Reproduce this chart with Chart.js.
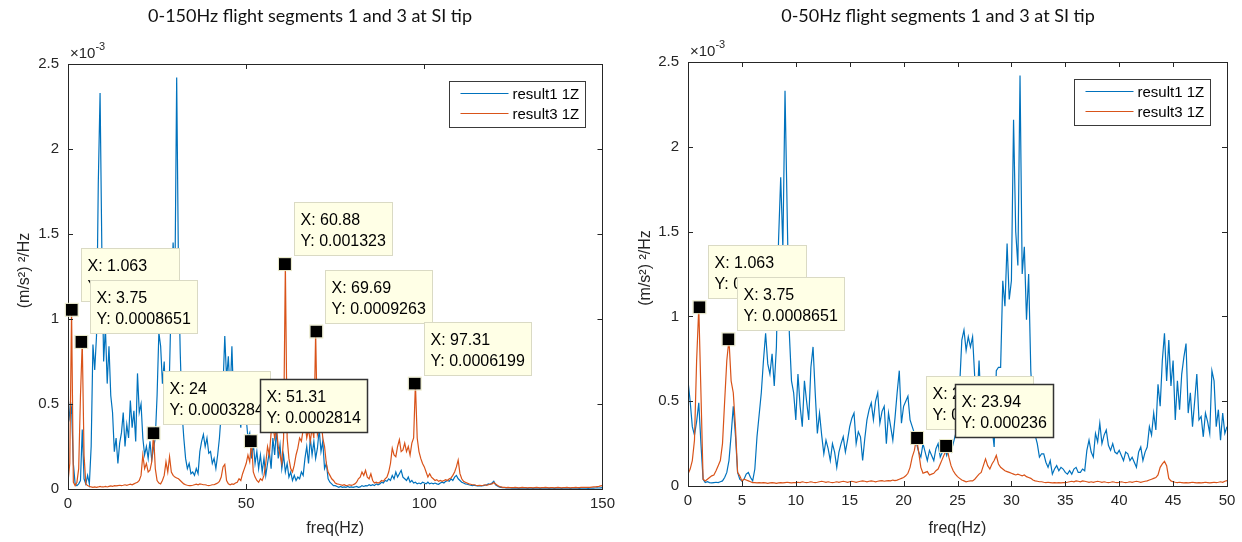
<!DOCTYPE html>
<html>
<head>
<meta charset="utf-8">
<script src="https://cdn.jsdelivr.net/npm/chart.js@4.4.1/dist/chart.umd.min.js"></script>
<style>
  html, body { margin: 0; padding: 0; background: #fff; }
  body { width: 1242px; height: 542px; position: relative; overflow: hidden; }
  .panel { position: absolute; top: 0; width: 621px; height: 542px; }
  #panel-left  { left: 0; }
  #panel-right { left: 621px; }
</style>
</head>
<body>
<div class="panel" id="panel-left"><canvas id="chartLeft" width="621" height="542"></canvas></div>
<div class="panel" id="panel-right"><canvas id="chartRight" width="621" height="542"></canvas></div>
<script>
/* ── Data (PSD values in units of 1e-3 (m/s^2)^2/Hz) ─────────────────────── */
const LEFT_STEP  = 0.5;   // Hz between samples, 0-150 Hz panel
const RIGHT_STEP = 0.2;   // Hz between samples, 0-50 Hz panel

const SERIES_NAMES = ['result1 1Z', 'result3 1Z'];
const LEFT_TITLE   = '0-150Hz flight segments 1 and 3 at SI tip';
const RIGHT_TITLE  = '0-50Hz flight segments 1 and 3 at SI tip';
const X_LABEL      = 'freq(Hz)';
const Y_LABEL      = '(m/s²) ²/Hz';

// 0-150 Hz, result1 (every 0.5 Hz, one row = 5 Hz)
const leftResult1 = [
  0.55, 0.42, 0.48, 0.15, 0.03, 0.02, 0.03, 0.05, 0.35, 0.06,
  0.03, 0.08, 0.03, 0.25, 0.85, 0.70, 0.90, 1.80, 2.33, 1.40,
  0.75, 0.95, 0.62, 0.84, 0.55, 0.45, 0.22, 0.30, 0.15, 0.27,
  0.33, 0.45, 0.25, 0.38, 0.30, 0.52, 0.36, 0.46, 0.28, 0.68,
  0.45, 0.50, 0.30, 0.20, 0.25, 0.18, 0.28, 0.17, 0.24, 0.30,
  0.55, 0.92, 0.84, 0.62, 0.75, 0.45, 0.58, 0.70, 1.15, 1.45,
  1.20, 2.42, 1.30, 0.80, 0.45, 0.30, 0.18, 0.12, 0.15, 0.09,
  0.10, 0.08, 0.12, 0.09, 0.22, 0.28, 0.32, 0.25, 0.30, 0.21,
  0.22, 0.15, 0.18, 0.12, 0.20, 0.30, 0.45, 0.60, 0.90, 0.65,
  0.78, 0.55, 0.84, 0.50, 0.66, 0.38, 0.45, 0.36, 0.62, 0.40,
  0.42, 0.30, 0.33, 0.18, 0.27, 0.15, 0.22, 0.12, 0.20, 0.10,
  0.18, 0.08, 0.15, 0.22, 0.12, 0.30, 0.20, 0.35, 0.18, 0.26,
  0.12, 0.20, 0.10, 0.15, 0.07, 0.10, 0.05, 0.08, 0.05, 0.07,
  0.06, 0.10, 0.08, 0.18, 0.25, 0.15, 0.30, 0.20, 0.28, 0.18,
  0.24, 0.35, 0.22, 0.28, 0.12, 0.15, 0.06, 0.04, 0.03, 0.02,
  0.020, 0.015, 0.010, 0.015, 0.010, 0.012, 0.010, 0.015, 0.010, 0.012,
  0.010, 0.012, 0.015, 0.010, 0.012, 0.020, 0.015, 0.020, 0.018, 0.025,
  0.020, 0.025, 0.020, 0.030, 0.025, 0.030, 0.040, 0.035, 0.050, 0.045,
  0.060, 0.050, 0.080, 0.060, 0.100, 0.070, 0.090, 0.110, 0.070, 0.060,
  0.050, 0.070, 0.040, 0.050, 0.035, 0.040, 0.030, 0.035, 0.030, 0.040,
  0.035, 0.030, 0.040, 0.030, 0.035, 0.030, 0.035, 0.030, 0.028, 0.035,
  0.040, 0.035, 0.045, 0.050, 0.045, 0.060, 0.050, 0.070, 0.080, 0.060,
  0.050, 0.040, 0.035, 0.030, 0.028, 0.025, 0.022, 0.020, 0.022, 0.020,
  0.018, 0.020, 0.018, 0.020, 0.022, 0.025, 0.030, 0.028, 0.035, 0.045,
  0.025, 0.018, 0.012, 0.010, 0.008, 0.008, 0.006, 0.007, 0.006, 0.005,
  0.005, 0.006, 0.005, 0.004, 0.005, 0.006, 0.005, 0.005, 0.004, 0.005,
  0.005, 0.004, 0.005, 0.006, 0.005, 0.004, 0.005, 0.005, 0.006, 0.005,
  0.004, 0.005, 0.005, 0.004, 0.005, 0.006, 0.005, 0.004, 0.005, 0.005,
  0.006, 0.005, 0.004, 0.005, 0.005, 0.006, 0.005, 0.004, 0.005, 0.006,
  0.005, 0.005, 0.004, 0.005, 0.006, 0.005, 0.006, 0.007, 0.006, 0.007,
  0.008
];

// 0-150 Hz, result3
const leftResult3 = [
  0.04, 0.15, 1.054, 0.04, 0.02, 0.04, 0.12, 0.55, 0.865, 0.20,
  0.030, 0.020, 0.015, 0.012, 0.010, 0.012, 0.010, 0.012, 0.015, 0.012,
  0.012, 0.015, 0.012, 0.015, 0.018, 0.015, 0.020, 0.018, 0.020, 0.022,
  0.020, 0.022, 0.025, 0.022, 0.025, 0.028, 0.025, 0.030, 0.035, 0.040,
  0.05, 0.08, 0.20, 0.12, 0.15, 0.10, 0.11, 0.16, 0.3284, 0.12,
  0.05, 0.035, 0.03, 0.05, 0.08, 0.16, 0.10, 0.19, 0.10, 0.08,
  0.070, 0.065, 0.060, 0.050, 0.040, 0.030, 0.025, 0.022, 0.020, 0.020,
  0.022, 0.025, 0.028, 0.025, 0.030, 0.028, 0.025, 0.025, 0.022, 0.020,
  0.022, 0.025, 0.025, 0.030, 0.035, 0.045, 0.070, 0.130, 0.145, 0.050,
  0.030, 0.025, 0.030, 0.028, 0.035, 0.040, 0.060, 0.050, 0.090, 0.120,
  0.15, 0.20, 0.16, 0.2814, 0.10, 0.07, 0.05, 0.04, 0.06, 0.05,
  0.08, 0.15, 0.25, 0.20, 0.33, 0.38, 0.30, 0.36, 0.25, 0.20,
  0.15, 0.30, 1.323, 0.30, 0.18, 0.12, 0.10, 0.14, 0.20, 0.24,
  0.30, 0.28, 0.35, 0.40, 0.30, 0.35, 0.28, 0.36, 0.30, 0.9263,
  0.32, 0.36, 0.42, 0.30, 0.25, 0.15, 0.10, 0.08, 0.06, 0.05,
  0.035, 0.030, 0.028, 0.025, 0.022, 0.025, 0.020, 0.022, 0.025, 0.022,
  0.025, 0.030, 0.040, 0.060, 0.070, 0.100, 0.080, 0.110, 0.070, 0.060,
  0.090, 0.050, 0.035, 0.040, 0.035, 0.040, 0.050, 0.045, 0.060, 0.070,
  0.10, 0.15, 0.24, 0.20, 0.19, 0.25, 0.29, 0.22, 0.23, 0.27,
  0.22, 0.25, 0.20, 0.27, 0.30, 0.6199, 0.30, 0.22, 0.18, 0.15,
  0.130, 0.100, 0.070, 0.090, 0.070, 0.060, 0.050, 0.055, 0.045, 0.050,
  0.045, 0.050, 0.055, 0.050, 0.060, 0.065, 0.080, 0.100, 0.130, 0.170,
  0.090, 0.060, 0.045, 0.040, 0.035, 0.030, 0.028, 0.025, 0.025, 0.022,
  0.020, 0.022, 0.020, 0.022, 0.025, 0.022, 0.025, 0.028, 0.030, 0.038,
  0.030, 0.022, 0.015, 0.012, 0.010, 0.009, 0.008, 0.009, 0.008, 0.008,
  0.008, 0.009, 0.008, 0.007, 0.008, 0.009, 0.008, 0.008, 0.007, 0.008,
  0.008, 0.007, 0.008, 0.009, 0.008, 0.007, 0.008, 0.008, 0.009, 0.008,
  0.007, 0.008, 0.008, 0.007, 0.008, 0.009, 0.008, 0.007, 0.008, 0.008,
  0.009, 0.008, 0.007, 0.008, 0.008, 0.009, 0.008, 0.008, 0.009, 0.010,
  0.009, 0.010, 0.009, 0.010, 0.011, 0.012, 0.012, 0.014, 0.015, 0.018,
  0.020
];

// 0-50 Hz, result1 (every 0.2 Hz, one row = 5 Hz)
const rightResult1 = [
  0.62, 0.50, 0.35, 0.30, 0.38, 0.49, 0.25, 0.04, 0.02, 0.025, 0.02, 0.018, 0.02, 0.022, 0.02, 0.025, 0.03, 0.05, 0.08, 0.15, 0.30, 0.47, 0.30, 0.08, 0.04,
  0.03, 0.04, 0.07, 0.08, 0.05, 0.03, 0.10, 0.29, 0.42, 0.55, 0.74, 0.90, 0.72, 0.66, 0.78, 0.59, 0.82, 1.45, 1.82, 1.40, 2.33, 1.61, 0.90, 0.62, 0.55,
  0.39, 0.66, 0.47, 0.35, 0.62, 0.50, 0.39, 0.70, 0.82, 0.55, 0.31, 0.43, 0.30, 0.19, 0.27, 0.22, 0.15, 0.25, 0.20, 0.11, 0.20, 0.25, 0.29, 0.20, 0.27,
  0.35, 0.40, 0.43, 0.25, 0.32, 0.29, 0.15, 0.28, 0.39, 0.45, 0.49, 0.39, 0.50, 0.55, 0.37, 0.44, 0.47, 0.25, 0.43, 0.35, 0.27, 0.40, 0.55, 0.68, 0.37,
  0.47, 0.50, 0.53, 0.39, 0.35, 0.31, 0.25, 0.20, 0.17, 0.25, 0.20, 0.15, 0.21, 0.18, 0.15, 0.22, 0.25, 0.17, 0.20, 0.23, 0.18, 0.22, 0.20, 0.25, 0.30,
  0.35, 0.59, 0.86, 0.92, 0.80, 0.88, 0.82, 0.88, 0.64, 0.47, 0.74, 0.43, 0.51, 0.45, 0.43, 0.55, 0.35, 0.23, 0.68, 0.70, 0.70, 1.21, 1.06, 1.43, 1.10,
  1.21, 2.16, 1.50, 1.30, 2.42, 1.25, 1.41, 0.98, 1.25, 0.68, 0.45, 0.30, 0.25, 0.17, 0.19, 0.19, 0.14, 0.11, 0.15, 0.07, 0.10, 0.12, 0.09, 0.11, 0.10,
  0.08, 0.07, 0.09, 0.07, 0.10, 0.11, 0.08, 0.08, 0.10, 0.09, 0.21, 0.27, 0.20, 0.17, 0.31, 0.26, 0.37, 0.25, 0.30, 0.33, 0.24, 0.21, 0.25, 0.20, 0.19,
  0.21, 0.18, 0.15, 0.20, 0.19, 0.15, 0.17, 0.14, 0.11, 0.20, 0.23, 0.15, 0.20, 0.23, 0.35, 0.30, 0.43, 0.33, 0.60, 0.47, 0.74, 0.90, 0.62, 0.86, 0.59,
  0.74, 0.39, 0.62, 0.45, 0.66, 0.76, 0.84, 0.43, 0.55, 0.35, 0.50, 0.66, 0.39, 0.41, 0.29, 0.43, 0.38, 0.31, 0.68, 0.62, 0.35, 0.45, 0.27, 0.43, 0.31,
  0.35
];

// 0-50 Hz, result3
const rightResult3 = [
  0.07, 0.10, 0.15, 0.27, 0.74, 1.054, 0.55, 0.04, 0.03, 0.04, 0.05, 0.06, 0.065, 0.09, 0.12, 0.15, 0.25, 0.50, 0.74, 0.865, 0.62, 0.55, 0.35, 0.08, 0.06,
  0.03, 0.04, 0.035, 0.03, 0.025, 0.02, 0.02, 0.018, 0.02, 0.018, 0.02, 0.018, 0.015, 0.018, 0.02, 0.018, 0.015, 0.018, 0.02, 0.018, 0.02, 0.022, 0.02, 0.018, 0.02,
  0.02, 0.022, 0.02, 0.025, 0.022, 0.02, 0.022, 0.025, 0.022, 0.02, 0.022, 0.025, 0.028, 0.025, 0.022, 0.025, 0.022, 0.02, 0.022, 0.025, 0.022, 0.025, 0.028, 0.025, 0.022,
  0.025, 0.028, 0.025, 0.022, 0.025, 0.028, 0.03, 0.028, 0.025, 0.028, 0.03, 0.028, 0.025, 0.028, 0.03, 0.032, 0.028, 0.03, 0.032, 0.03, 0.035, 0.032, 0.035, 0.04, 0.045,
  0.05, 0.06, 0.075, 0.11, 0.17, 0.21, 0.283, 0.20, 0.11, 0.075, 0.08, 0.085, 0.065, 0.07, 0.075, 0.09, 0.10, 0.13, 0.16, 0.19, 0.236, 0.17, 0.12, 0.09, 0.07,
  0.055, 0.045, 0.035, 0.03, 0.025, 0.028, 0.03, 0.03, 0.04, 0.055, 0.07, 0.08, 0.12, 0.16, 0.12, 0.10, 0.13, 0.15, 0.18, 0.13, 0.11, 0.10, 0.09, 0.085, 0.08,
  0.075, 0.07, 0.065, 0.07, 0.065, 0.06, 0.065, 0.055, 0.05, 0.045, 0.035, 0.03, 0.028, 0.025, 0.025, 0.022, 0.02, 0.022, 0.02, 0.018, 0.02, 0.018, 0.02, 0.018, 0.02,
  0.02, 0.022, 0.025, 0.028, 0.025, 0.03, 0.028, 0.025, 0.03, 0.028, 0.025, 0.022, 0.025, 0.022, 0.025, 0.028, 0.025, 0.022, 0.025, 0.022, 0.02, 0.022, 0.025, 0.022, 0.02,
  0.022, 0.025, 0.022, 0.02, 0.022, 0.025, 0.022, 0.025, 0.028, 0.025, 0.022, 0.025, 0.028, 0.03, 0.035, 0.04, 0.045, 0.05, 0.065, 0.11, 0.13, 0.145, 0.12, 0.045, 0.03,
  0.025, 0.022, 0.02, 0.022, 0.02, 0.018, 0.02, 0.018, 0.02, 0.022, 0.02, 0.018, 0.02, 0.018, 0.02, 0.022, 0.02, 0.018, 0.02, 0.022, 0.02, 0.022, 0.025, 0.022, 0.028,
  0.032
];

// data tips (X in Hz, Y in (m/s^2)^2/Hz)
const leftTipX  = [1.063, 3.75, 24, 51.31, 60.88, 69.69, 97.31];
const leftTipY  = [0.001054, 0.0008651, 0.0003284, 0.0002814, 0.001323, 0.0009263, 0.0006199];
const rightTipX = [1.063, 3.75, 21.25, 23.94];
const rightTipY = [0.001054, 0.0008651, 0.0002831, 0.000236];

/* ── Look ────────────────────────────────────────────────────────────────── */
const BLUE      = '#0072BD';
const RED       = '#D95319';
const AXIS_GREY = '#262626';
const SANS      = '"Liberation Sans", Arial, sans-serif';

/* ── Decorations: box, inward ticks, legend, data tips, titles ──────────── */
function drawTip(ctx, xs, ys, fx, fy, selected) {
  const mx = xs.getPixelForValue(fx);
  const my = ys.getPixelForValue(fy * 1000);
  const lines = ['X: ' + fx, 'Y: ' + fy];
  ctx.font = '16px ' + SANS;
  const w = Math.round(Math.max(...lines.map(l => ctx.measureText(l).width)) + 13);
  const h = 53;
  const bx = Math.round(mx + 9) + 0.5;
  const by = Math.round(my - 9 - h) + 0.5;

  ctx.fillStyle = '#FFFFE6';
  ctx.fillRect(bx, by, w, h);
  ctx.lineWidth = selected ? 1.5 : 1;
  ctx.strokeStyle = selected ? '#333333' : '#DADAC4';
  ctx.strokeRect(bx, by, w, h);

  ctx.fillStyle = '#000';
  ctx.textAlign = 'left';
  ctx.textBaseline = 'middle';
  ctx.fillText(lines[0], bx + 6, by + 18);
  ctx.fillText(lines[1], bx + 6, by + 39);

  // marker
  ctx.fillStyle = '#000';
  ctx.fillRect(mx - 6, my - 6, 12, 12);
  ctx.lineWidth = 1;
  ctx.strokeStyle = '#E8E8C8';
  ctx.strokeRect(mx - 6.5, my - 6.5, 13, 13);
}

function drawLegend(ctx, a, datasets) {
  ctx.font = '15px ' + SANS;
  const textW = Math.max(...datasets.map(d => ctx.measureText(d.label).width));
  const w = Math.round(64 + textW + 5), h = 46;
  const left = Math.round(a.right - 17 - w) + 0.5;
  const top  = Math.round(a.top + 17) + 0.5;

  ctx.fillStyle = '#fff';
  ctx.fillRect(left, top, w, h);
  ctx.strokeStyle = '#3a3a3a';
  ctx.lineWidth = 1;
  ctx.strokeRect(left, top, w, h);

  datasets.forEach((d, i) => {
    const yy = top + 12 + i * 20;
    ctx.strokeStyle = d.borderColor;
    ctx.lineWidth = 1.2;
    ctx.beginPath();
    ctx.moveTo(left + 11, yy);
    ctx.lineTo(left + 59, yy);
    ctx.stroke();
    ctx.fillStyle = '#000';
    ctx.textAlign = 'left';
    ctx.textBaseline = 'middle';
    ctx.fillText(d.label, left + 63, yy + 1);
  });
}

function makeDecor(p) {
  return {
    id: 'decor_' + p.id,
    afterDatasetsDraw(chart) {
      const { ctx, chartArea: a } = chart;
      const xs = chart.scales.x, ys = chart.scales.y;
      ctx.save();

      // inward tick marks on all four sides, MATLAB style
      ctx.strokeStyle = AXIS_GREY;
      ctx.lineWidth = 1;
      ctx.beginPath();
      xs.ticks.forEach(t => {
        const px = Math.round(xs.getPixelForValue(t.value)) + 0.5;
        ctx.moveTo(px, a.bottom); ctx.lineTo(px, a.bottom - 5);
        ctx.moveTo(px, a.top);    ctx.lineTo(px, a.top + 5);
      });
      ys.ticks.forEach(t => {
        const py = Math.round(ys.getPixelForValue(t.value)) + 0.5;
        ctx.moveTo(a.left, py);  ctx.lineTo(a.left + 5, py);
        ctx.moveTo(a.right, py); ctx.lineTo(a.right - 5, py);
      });
      ctx.stroke();
      ctx.strokeRect(Math.round(a.left) + 0.5, Math.round(a.top) + 0.5,
                     Math.round(a.right - a.left), Math.round(a.bottom - a.top));

      p.tipX.forEach((fx, i) => drawTip(ctx, xs, ys, fx, p.tipY[i], i === p.selectedTip));
      drawLegend(ctx, a, chart.data.datasets);
      ctx.restore();
    },
    afterDraw(chart) {
      const { ctx, chartArea: a } = chart;
      ctx.save();

      // title
      ctx.fillStyle = '#111';
      ctx.font = '18px Lato, "Open Sans", sans-serif';
      ctx.textAlign = 'center';
      ctx.textBaseline = 'middle';
      ctx.fillText(p.title, p.titleX, 16);

      // y axis label, rotated
      ctx.save();
      ctx.translate(25, (a.top + a.bottom) / 2 - 6);
      ctx.rotate(-Math.PI / 2);
      ctx.fillStyle = AXIS_GREY;
      ctx.font = '16px ' + SANS;
      ctx.fillText(Y_LABEL, 0, 0);
      ctx.restore();

      // exponent ×10^-3
      ctx.fillStyle = AXIS_GREY;
      ctx.textAlign = 'left';
      ctx.textBaseline = 'alphabetic';
      ctx.font = '15px ' + SANS;
      const base = '\u00d710';
      ctx.fillText(base, a.left + 2, a.top - 6);
      const bw = ctx.measureText(base).width;
      ctx.font = '11px ' + SANS;
      ctx.fillText('-3', a.left + 2 + bw, a.top - 14);
      ctx.restore();
    }
  };
}

/* ── Panel builder ───────────────────────────────────────────────────────── */
function toPoints(vals, step) {
  return vals.map((v, i) => ({ x: Math.round(i * step * 1000) / 1000, y: v }));
}

function makePanel(canvasId, p) {
  const tickFont = { family: SANS, size: 15 };
  return new Chart(document.getElementById(canvasId), {
    type: 'line',
    data: {
      datasets: [
        { label: SERIES_NAMES[0], data: toPoints(p.s1, p.step), borderColor: BLUE, order: 2 },
        { label: SERIES_NAMES[1], data: toPoints(p.s3, p.step), borderColor: RED,  order: 1 },
      ]
    },
    options: {
      responsive: false,
      animation: false,
      events: [],
      datasets: { line: { borderWidth: 1.2, pointRadius: 0, tension: 0, fill: false } },
      layout: { padding: { left: 0, right: p.padRight, top: p.padTop, bottom: 0 } },
      plugins: { legend: { display: false }, tooltip: { enabled: false } },
      scales: {
        x: {
          type: 'linear', min: 0, max: p.xMax,
          grid: { display: false, drawTicks: false },
          border: { display: false },
          ticks: { stepSize: p.xStep, padding: 6, color: AXIS_GREY, font: tickFont, maxRotation: 0 },
          title: { display: true, text: X_LABEL, color: AXIS_GREY, font: { family: SANS, size: 16 }, padding: { top: 0, bottom: 4 } },
          afterFit: s => { s.height = p.xAxisH; }
        },
        y: {
          min: 0, max: 2.5,
          grid: { display: false, drawTicks: false },
          border: { display: false },
          ticks: { stepSize: 0.5, padding: 9, color: AXIS_GREY, font: tickFont,
                   callback: v => String(Math.round(v * 10) / 10) },
          afterFit: s => { s.width = p.yAxisW; }
        }
      }
    },
    plugins: [makeDecor(p)]
  });
}

makePanel('chartLeft', {
  id: 'left', title: LEFT_TITLE, titleX: 310,
  s1: leftResult1, s3: leftResult3, step: LEFT_STEP,
  xMax: 150, xStep: 50,
  tipX: leftTipX, tipY: leftTipY, selectedTip: 3,
  padTop: 64, padRight: 15, xAxisH: 53, yAxisW: 68
});

makePanel('chartRight', {
  id: 'right', title: RIGHT_TITLE, titleX: 317,
  s1: rightResult1, s3: rightResult3, step: RIGHT_STEP,
  xMax: 50, xStep: 5,
  tipX: rightTipX, tipY: rightTipY, selectedTip: 3,
  padTop: 62, padRight: 15, xAxisH: 56, yAxisW: 67
});
</script>
</body>
</html>
